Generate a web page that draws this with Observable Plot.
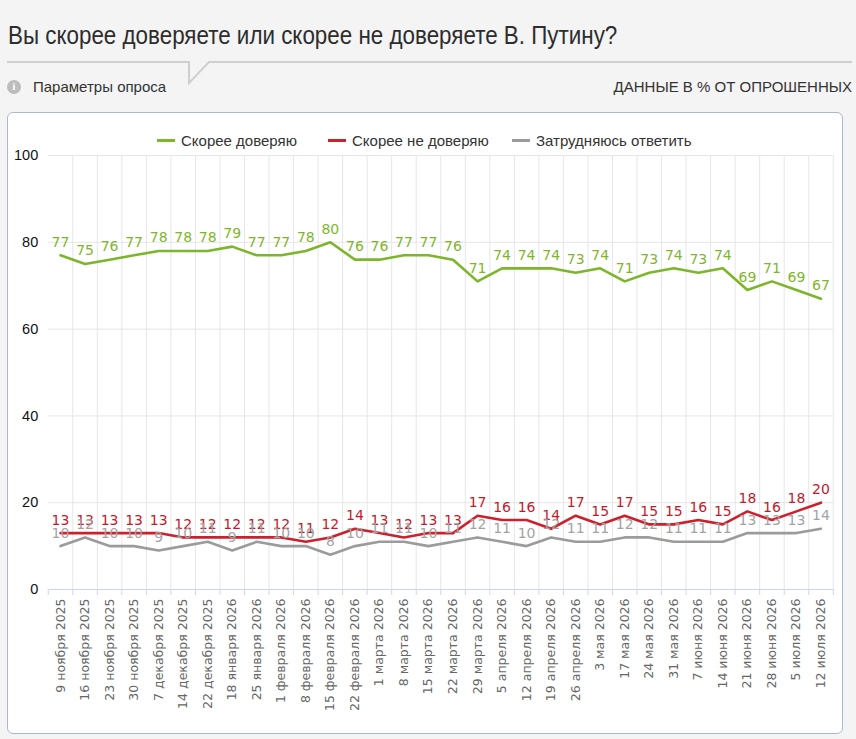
<!DOCTYPE html>
<html>
<head>
<meta charset="utf-8">
<script src="https://cdn.jsdelivr.net/npm/d3@7"></script>
<script src="https://cdn.jsdelivr.net/npm/@observablehq/plot@0.6"></script>
<style>
  html, body { margin: 0; padding: 0; }
  body { width: 856px; height: 739px; background: #f4f4f4; position: relative; overflow: hidden; font-family: "Liberation Sans", Arial, sans-serif; }
  #title { position: absolute; left: 8px; top: 21.6px; line-height: 1; font-family: "Liberation Sans", Arial, sans-serif; font-size: 26.5px; color: #2d2d2d; white-space: nowrap; transform: scaleX(0.845); transform-origin: 0 0; }
  #hdr { position: absolute; left: 0; top: 0; }
  #params { position: absolute; left: 33px; top: 78px; font-size: 15px; color: #333; }
  #icon { position: absolute; left: 7px; top: 80px; width: 14px; height: 14px; border-radius: 50%; background: #bdbdbd; color: #fff; font: bold 10px "Liberation Serif", serif; text-align: center; line-height: 14px; }
  #units { position: absolute; right: 4px; top: 78px; font-size: 15px; color: #333; white-space: nowrap; }
  #box { position: absolute; left: 7px; top: 112px; width: 834px; height: 620px; background: #fff; border: 1px solid #a9b9cf; border-radius: 6px; }
  #chart { position: absolute; left: 0; top: 36px; }
  .item { position: absolute; top: 19px; display: flex; align-items: center; font-size: 15px; color: #333; white-space: nowrap; }
  .sw { width: 18px; height: 3px; margin-right: 6px; }
</style>
</head>
<body>
<svg id="hdr" width="856" height="110">
  <path d="M7,62 H189 V83 L209,62 H852" fill="none" stroke="#cfcfcf" stroke-width="2"/>
</svg>
<div id="title">Вы скорее доверяете или скорее не доверяете В. Путину?</div>
<div id="icon">i</div>
<div id="params">Параметры опроса</div>
<div id="units">ДАННЫЕ В % ОТ ОПРОШЕННЫХ</div>
<div id="box">
  <div id="chart"></div>
</div>
<script>
const dates = [
  "9 ноября 2025","16 ноября 2025","23 ноября 2025","30 ноября 2025","7 декабря 2025",
  "14 декабря 2025","22 декабря 2025","18 января 2026","25 января 2026","1 февраля 2026",
  "8 февраля 2026","15 февраля 2026","22 февраля 2026","1 марта 2026","8 марта 2026",
  "15 марта 2026","22 марта 2026","29 марта 2026","5 апреля 2026","12 апреля 2026",
  "19 апреля 2026","26 апреля 2026","3 мая 2026","17 мая 2026","24 мая 2026",
  "31 мая 2026","7 июня 2026","14 июня 2026","21 июня 2026","28 июня 2026",
  "5 июля 2026","12 июля 2026"
];
const trust =     [77,75,76,77,78,78,78,79,77,77,78,80,76,76,77,77,76,71,74,74,74,73,74,71,73,74,73,74,69,71,69,67];
const distrust =  [13,13,13,13,13,12,12,12,12,12,11,12,14,13,12,13,13,17,16,16,14,17,15,17,15,15,16,15,18,16,18,20];
const undecided = [10,12,10,10,9,10,11,9,11,10,10,8,10,11,11,10,11,12,11,10,12,11,11,12,12,11,11,11,13,13,13,14];
const seriesNames = ["Скорее доверяю","Скорее не доверяю","Затрудняюсь ответить"];
const seriesValues = [trust, distrust, undecided];
const lineColors = ["#7cb62a","#cf1f2c","#9b9b9b"];
const labelColors = ["#7fb52c","#c4192b","#a3a3a3"];
const yTicks = [0,20,40,60,80,100];

const rows = [];
seriesValues.forEach((vals, s) => vals.forEach((v, i) => rows.push({series: seriesNames[s], i, v})));
const idx = dates.map((d, i) => i);
const bounds = d3.range(-0.5, dates.length, 1);

const plot = Plot.plot({
  width: 834,
  height: 584,
  marginLeft: 39.75,
  marginRight: 9.25,
  marginTop: 6,
  marginBottom: 144,
  style: {fontFamily: "'Liberation Sans', Arial, sans-serif", overflow: "visible", background: "transparent"},
  x: {type: "linear", domain: [-0.5, dates.length - 0.5], axis: null, label: null},
  y: {domain: [0, 100], axis: null, label: null},
  marks: [
    Plot.ruleY(yTicks.filter(t => t > 0), {stroke: "#e6e6e6", strokeWidth: 1}),
    Plot.ruleX(bounds.slice(1), {y1: 0, y2: 100, stroke: "#e6e6e6", strokeWidth: 1}),
    Plot.ruleY([0], {stroke: "#ccd6eb", strokeWidth: 1}),
    Plot.axisX({ticks: bounds, tickSize: 6, tickFormat: () => "", stroke: "#ccd6eb", label: null}),
    Plot.axisX({ticks: idx, tickSize: 0, tickPadding: 9, tickRotate: -90, tickFormat: i => dates[i], fontSize: 12.5, fontFamily: "'DejaVu Sans', Verdana, sans-serif", fill: "#666", label: null}),
    Plot.axisY({ticks: yTicks, tickSize: 0, tickPadding: 10, fontSize: 14.5, fill: "#111", tickFormat: d => d, label: null}),
    ...seriesNames.map((name, s) => Plot.lineY(rows.filter(r => r.series === name), {x: "i", y: "v", stroke: lineColors[s], strokeWidth: 2.6})),
    ...seriesNames.map((name, s) => Plot.text(rows.filter(r => r.series === name), {x: "i", y: "v", text: "v", dy: -13, fill: labelColors[s], fontSize: 14, fontFamily: "'DejaVu Sans', Verdana, sans-serif"}))
  ]
});
document.getElementById("chart").appendChild(plot);

const box = document.getElementById("box");
const legendLeft = [149, 320, 504];
seriesNames.forEach((n, s) => {
  const it = document.createElement("div");
  it.className = "item";
  it.style.left = legendLeft[s] + "px";
  it.innerHTML = `<span class="sw" style="background:${lineColors[s]}"></span><span>${n}</span>`;
  box.appendChild(it);
});
</script>
</body>
</html>
